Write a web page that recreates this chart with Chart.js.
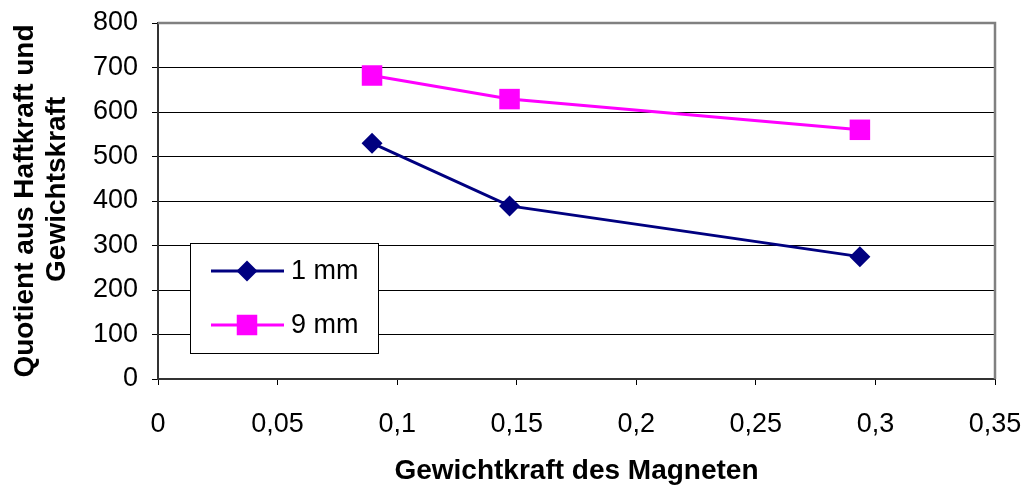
<!DOCTYPE html>
<html>
<head>
<meta charset="utf-8">
<script src="https://cdn.jsdelivr.net/npm/chart.js@4/dist/chart.umd.min.js"></script>
<style>
  html, body { margin: 0; padding: 0; background: #fff; }
  #wrap { width: 1027px; height: 485px; }
</style>
</head>
<body>
<div id="wrap"><canvas id="magChart" width="1027" height="485"></canvas></div>
<script>
// Gewichtkraft des Magneten (x) and Quotient (y)
const gewichtkraft = [0.0895, 0.147, 0.2935];
const quotient1mm = [530, 389, 275];
const quotient9mm = [682, 629, 560];
const seriesNames = ['1 mm', '9 mm'];
const yTitle = ['Quotient aus Haftkraft und', '   Gewichtskraft'];
const xTitle = 'Gewichtkraft des Magneten';

const FONT = 'Liberation Sans, Arial, Helvetica, sans-serif';

function toPoints(xs, ys) {
    return xs.map(function (x, i) { return {x: x, y: ys[i]}; });
}

function drawMarker(ctx, style, x, y, r, color) {
    ctx.save();
    ctx.fillStyle = color;
    ctx.beginPath();
    if (style === 'rectRot') {
        ctx.moveTo(x - r, y);
        ctx.lineTo(x, y - r);
        ctx.lineTo(x + r, y);
        ctx.lineTo(x, y + r);
    } else {
        const s = r * Math.SQRT1_2;
        ctx.rect(x - s, y - s, 2 * s, 2 * s);
    }
    ctx.closePath();
    ctx.fill();
    ctx.restore();
}

// gray frame on top and right side of the plot area, plus the boxed legend
const framePlugin = {
    id: 'frame',
    afterDraw: function (chart) {
        const ctx = chart.ctx;
        const a = chart.chartArea;
        ctx.save();
        ctx.strokeStyle = '#808080';
        ctx.lineWidth = 2.5;
        ctx.beginPath();
        ctx.moveTo(a.left, a.top);
        ctx.lineTo(a.right, a.top);
        ctx.lineTo(a.right, a.bottom);
        ctx.stroke();

        // legend
        ctx.fillStyle = '#fff';
        ctx.fillRect(190.5, 243.5, 188, 110);
        ctx.strokeStyle = '#000';
        ctx.lineWidth = 1;
        ctx.strokeRect(190.5, 243.5, 188, 110);
        const rows = [271, 325];
        chart.data.datasets.forEach(function (ds, i) {
            const y = rows[i];
            ctx.strokeStyle = ds.borderColor;
            ctx.lineWidth = ds.borderWidth;
            ctx.beginPath();
            ctx.moveTo(211, y);
            ctx.lineTo(284, y);
            ctx.stroke();
            drawMarker(ctx, ds.pointStyle, 247, y, ds.pointRadius, ds.pointBackgroundColor);
            ctx.fillStyle = '#000';
            ctx.font = '27px ' + FONT;
            ctx.textAlign = 'left';
            ctx.textBaseline = 'middle';
            ctx.fillText(ds.label, 291, y + 1);
        });
        ctx.restore();
    }
};

const config = {
    type: 'line',
    data: {
        datasets: [{
            label: seriesNames[0],
            data: toPoints(gewichtkraft, quotient1mm),
            borderColor: '#000080',
            backgroundColor: '#000080',
            pointBackgroundColor: '#000080',
            pointBorderColor: '#000080',
            pointStyle: 'rectRot',
            pointRadius: 10.5,
            pointBorderWidth: 0,
            borderWidth: 3,
            tension: 0
        }, {
            label: seriesNames[1],
            data: toPoints(gewichtkraft, quotient9mm),
            borderColor: '#ff00ff',
            backgroundColor: '#ff00ff',
            pointBackgroundColor: '#ff00ff',
            pointBorderColor: '#ff00ff',
            pointStyle: 'rect',
            pointRadius: 14.5,
            pointBorderWidth: 0,
            borderWidth: 3,
            tension: 0
        }]
    },
    options: {
        responsive: false,
        animation: false,
        devicePixelRatio: 1,
        layout: {padding: {top: 23, right: 32, left: 0, bottom: 0}},
        plugins: {
            legend: {display: false},
            tooltip: {enabled: false},
            title: {display: false}
        },
        scales: {
            x: {
                type: 'linear',
                min: 0,
                max: 0.35,
                afterFit: function (scale) {
                    scale.height = 106;
                    scale.paddingLeft = 0;
                    scale.paddingRight = 0;
                },
                ticks: {
                    stepSize: 0.05,
                    color: '#000',
                    padding: 23,
                    maxRotation: 0,
                    font: {family: FONT, size: 27},
                    callback: function (v) {
                        return String(Math.round(v * 100) / 100).replace('.', ',');
                    }
                },
                grid: {
                    display: true,
                    drawOnChartArea: false,
                    drawTicks: true,
                    tickLength: 6,
                    color: '#000',
                    lineWidth: 1
                },
                border: {display: true, color: '#333', width: 2},
                title: {
                    display: true,
                    text: xTitle,
                    color: '#000',
                    padding: {top: 0, bottom: 0},
                    font: {family: FONT, size: 28, weight: 'bold', lineHeight: 1}
                }
            },
            y: {
                min: 0,
                max: 800,
                afterFit: function (scale) {
                    scale.width = 158;
                    scale.paddingTop = 0;
                    scale.paddingBottom = 0;
                },
                ticks: {
                    stepSize: 100,
                    color: '#000',
                    padding: 14,
                    font: {family: FONT, size: 27}
                },
                grid: {
                    display: true,
                    drawTicks: true,
                    tickLength: 6,
                    color: '#000',
                    lineWidth: 1
                },
                border: {display: true, color: '#333', width: 2},
                title: {
                    display: true,
                    text: yTitle,
                    color: '#000',
                    padding: {top: 9, bottom: 0},
                    font: {family: FONT, size: 28, weight: 'bold', lineHeight: 1.15}
                }
            }
        }
    },
    plugins: [framePlugin]
};

const magCtx = document.getElementById('magChart').getContext('2d');
window.magChart = new Chart(magCtx, config);
</script>
</body>
</html>
